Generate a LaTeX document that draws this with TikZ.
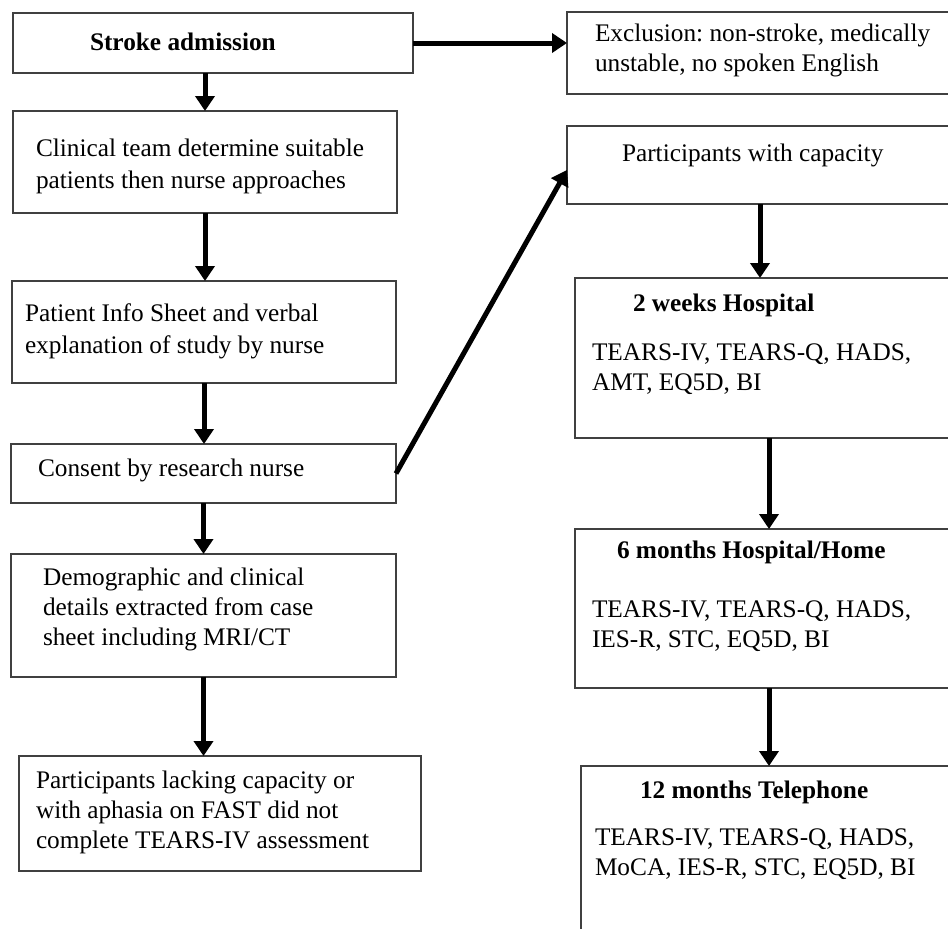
\documentclass[tikz,border=0pt]{standalone}
\usepackage{fontspec}
\setmainfont{Liberation Serif}
\frenchspacing
\usetikzlibrary{arrows.meta}
\tikzset{
  box/.style={draw=black!75, line width=1.3pt, inner sep=0pt, outer sep=0pt, rectangle},
  txt/.style={font=\fontsize{25.3pt}{30pt}\selectfont, align=left, anchor=north west, inner sep=0pt, outer sep=0pt},
  btxt/.style={txt, font=\fontsize{25.3pt}{30pt}\selectfont\bfseries},
  arr/.style={line width=5pt, -{Triangle[length=15pt,width=19pt]}},
}
\begin{document}
\begin{tikzpicture}[x=1pt,y=-1pt]
\useasboundingbox (0,0) rectangle (948,929);
\clip (0,0) rectangle (948,929);
\fill[white] (0,0) rectangle (948,929);
% boxes
\node[box, minimum width=400pt, minimum height=60pt] (stroke) at (213,43) {};
\node[box, minimum width=386pt, minimum height=82pt] (excl) at (760,53) {};
\node[box, minimum width=384pt, minimum height=102pt] (clin) at (205,162) {};
\node[box, minimum width=386pt, minimum height=78pt] (cap) at (760,165) {};
\node[box, minimum width=384pt, minimum height=102pt] (info) at (204,332) {};
\node[box, minimum width=385pt, minimum height=59pt] (consent) at (203.5,473.5) {};
\node[box, minimum width=385pt, minimum height=123pt] (demo) at (203.5,615.5) {};
\node[box, minimum width=402pt, minimum height=115pt] (lack) at (220,813.5) {};
\node[box, minimum width=388pt, minimum height=160pt] (w2) at (769,358) {};
\node[box, minimum width=388pt, minimum height=159pt] (m6) at (769,608.5) {};
\node[box, minimum width=376pt, minimum height=179pt] (m12) at (769,855.5) {};
% texts
\node[btxt] (tstroke) at (90,33) {Stroke admission};
\node[txt] (texcl) at (595,24) {Exclusion: non-stroke, medically\\unstable, no spoken English};
\node[txt] (tclin) at (36,139) {Clinical team determine suitable\\[2pt]patients then nurse approaches};
\node[txt] (tcap) at (622,144) {Participants with capacity};
\node[txt] (tinfo) at (25,304) {Patient Info Sheet and verbal\\[2pt]explanation of study by nurse};
\node[txt] (tconsent) at (38,459) {Consent by research nurse};
\node[txt] (tdemo) at (43,568) {Demographic and clinical\\details extracted from case\\sheet including MRI/CT};
\node[txt] (tlack) at (36,771) {Participants lacking capacity or\\with aphasia on FAST did not\\complete TEARS-IV assessment};
\node[btxt] (hw2) at (633,294) {2 weeks Hospital};
\node[txt] (bw2) at (592,344) {TEARS-IV, TEARS-Q, HADS,\\AMT, EQ5D, BI};
\node[btxt] (hm6) at (617,541) {6 months Hospital/Home};
\node[txt] (bm6) at (592,601) {TEARS-IV, TEARS-Q, HADS,\\IES-R, STC, EQ5D, BI};
\node[btxt] (hm12) at (640,781) {12 months Telephone};
\node[txt] (bm12) at (595,829) {TEARS-IV, TEARS-Q, HADS,\\MoCA, IES-R, STC, EQ5D, BI};
% connectors
\draw[arr] (stroke.east) -- (stroke.east -| excl.west);
\draw[arr] (stroke.south -| clin.north) -- (clin.north);
\draw[arr] (clin.south) -- (clin.south |- info.north);
\draw[arr] (info.south) -- (info.south |- consent.north);
\draw[arr] (consent.south) -- (consent.south |- demo.north);
\draw[arr] (demo.south) -- (demo.south |- lack.north);
\draw[arr] (consent.east) -- ([yshift=-5pt]cap.west);
\draw[arr] (cap.south) -- (cap.south |- w2.north);
\draw[arr] (w2.south) -- (m6.north);
\draw[arr] (m6.south) -- (m12.north);
\end{tikzpicture}
\end{document}
